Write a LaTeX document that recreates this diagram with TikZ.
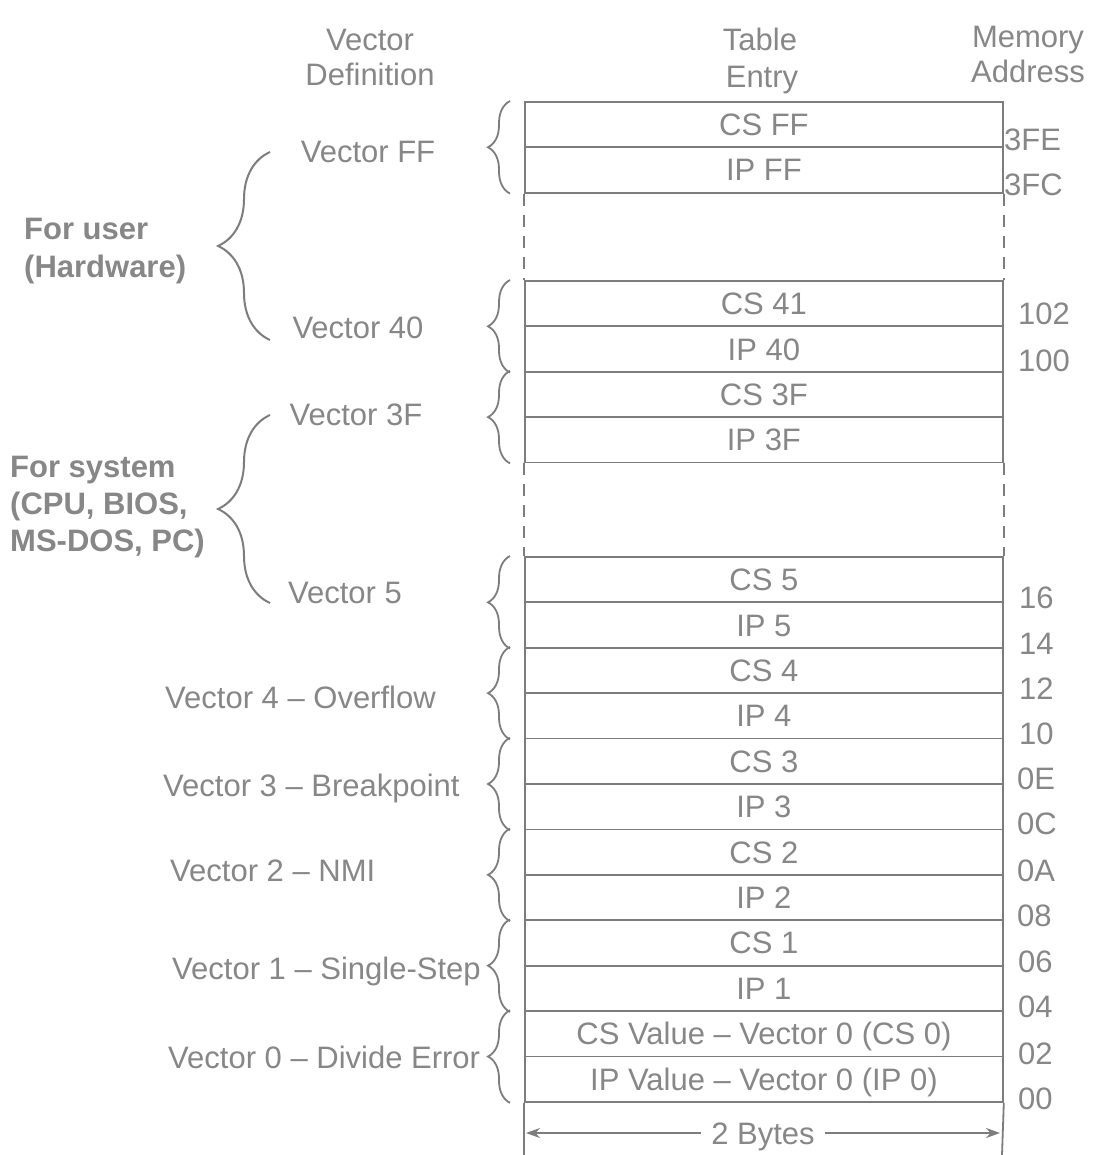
\documentclass[tikz,border=0pt]{standalone}
\usepackage{fontspec}
\setmainfont{Liberation Sans}
\usetikzlibrary{decorations.pathreplacing,arrows.meta}
\definecolor{lc}{RGB}{125,125,125}
\definecolor{tc}{RGB}{135,135,135}
\newcommand\fsz{\fontsize{31}{37}\selectfont}
\begin{document}
\begin{tikzpicture}[x=1pt,y=-1pt,
  cell/.style={draw=lc,line width=1.8pt,minimum width=478pt,minimum height=45.4pt,
    inner sep=0pt,anchor=north west,text=tc,font=\fsz,text height=22pt,text depth=0pt},
  lbl/.style={text=tc,font=\fsz,inner sep=0pt,text height=22pt,text depth=0pt},
  blbl/.style={lbl,font=\fsz\bfseries},
  addr/.style={lbl,anchor=west},
  dline/.style={draw=lc,line width=1.8pt,dash pattern=on 12pt off 9pt},
  sline/.style={draw=lc,line width=1.8pt},
  brc/.style={draw=lc,line width=1.8pt,decorate,decoration={brace,amplitude=22pt}},
  bigbrc/.style={draw=lc,line width=2pt,decorate,decoration={brace,amplitude=52pt}},
  arr/.style={draw=lc,line width=1.8pt,{Stealth[length=14pt,width=10pt]}-{Stealth[length=14pt,width=10pt]}}
]
\useasboundingbox[fill=white] (0,0) rectangle (1097,1155);

% headers
\node[lbl] (h1a) at (370,40) {Vector};
\node[lbl] (h1b) at (370,75) {Definition};
\node[lbl] (h2a) at (760,40) {Table};
\node[lbl] (h2b) at (762,77) {Entry};
\node[lbl] (h3a) at (1028,37) {Memory};
\node[lbl] (h3b) at (1028,72) {Address};

% top block
\node[cell] (csff) at (524,101) {CS FF};
\node[cell] (ipff) at (524,146.4) {IP FF};
% middle block
\node[cell] (cs41) at (524,280) {CS 41};
\node[cell] (ip40) at (524,325.4) {IP 40};
\node[cell] (cs3f) at (524,370.8) {CS 3F};
\node[cell] (ip3f) at (524,416.2) {IP 3F};
% bottom block
\foreach \t [count=\i] in {CS 5,IP 5,CS 4,IP 4,CS 3,IP 3,CS 2,IP 2,CS 1,IP 1,
    CS Value – Vector 0 (CS 0),IP Value – Vector 0 (IP 0)}
  \node[cell] (c\i) at (524,{556+(\i-1)*45.42}) {\t};

% dashed continuation lines
\draw[dline] (ipff.south west) -- (cs41.north west);
\draw[dline] (ipff.south east) -- (cs41.north east);
\draw[dline] (ip3f.south west) -- (c1.north west);
\draw[dline] (ip3f.south east) -- (c1.north east);

% bottom extensions and width arrow
\coordinate (bl) at (524,1155);
\coordinate (br) at (1002,1155);
\draw[sline] (c12.south west) -- (bl);
\draw[sline] (c12.south east) -- (br);
\coordinate (aL) at (526,1133);
\coordinate (aR) at (1000,1133);
\draw[arr] (aL) -- node[lbl,fill=white,inner xsep=10pt,inner ysep=2pt] (bytes) {2 Bytes} (aR);

% small braces next to table
\draw[brc] ([xshift=-14pt]ipff.south west) -- ([xshift=-14pt]csff.north west);
\draw[brc] ([xshift=-14pt]ip40.south west) -- ([xshift=-14pt]cs41.north west);
\draw[brc] ([xshift=-14pt]ip3f.south west) -- ([xshift=-14pt]cs3f.north west);
\draw[brc] ([xshift=-14pt]c2.south west) -- ([xshift=-14pt]c1.north west);
\draw[brc] ([xshift=-14pt]c4.south west) -- ([xshift=-14pt]c3.north west);
\draw[brc] ([xshift=-14pt]c6.south west) -- ([xshift=-14pt]c5.north west);
\draw[brc] ([xshift=-14pt]c8.south west) -- ([xshift=-14pt]c7.north west);
\draw[brc] ([xshift=-14pt]c10.south west) -- ([xshift=-14pt]c9.north west);
\draw[brc] ([xshift=-14pt]c12.south west) -- ([xshift=-14pt]c11.north west);

% vector labels
\node[lbl] (vff) at (368,152) {Vector FF};
\node[lbl] (v40) at (358,327) {Vector 40};
\node[lbl] (v3f) at (356,414) {Vector 3F};
\node[lbl] (v5) at (345,592) {Vector 5};
\node[lbl,anchor=west] (v4) at (165,697) {Vector 4 – Overflow};
\node[lbl,anchor=west] (v3) at (163,785) {Vector 3 – Breakpoint};
\node[lbl,anchor=west] (v2) at (170,870) {Vector 2 – NMI};
\node[lbl,anchor=west] (v1) at (172,968) {Vector 1 – Single-Step};
\node[lbl,anchor=west] (v0) at (168,1057) {Vector 0 – Divide Error};

% big braces
\coordinate (u1) at (270,340);
\coordinate (u2) at (270,152);
\draw[bigbrc] (u1) -- (u2);
\coordinate (s1) at (270,603);
\coordinate (s2) at (270,415);
\draw[bigbrc] (s1) -- (s2);

% group labels
\node[blbl,anchor=west] (g1a) at (24,229) {For user};
\node[blbl,anchor=west] (g1b) at (24,266) {(Hardware)};
\node[blbl,anchor=west] (g2a) at (10,466) {For system};
\node[blbl,anchor=west] (g2b) at (10,503) {(CPU, BIOS,};
\node[blbl,anchor=west] (g2c) at (10,540) {MS-DOS, PC)};

% addresses
\node[addr] (a3fe) at (1004,140) {3FE};
\node[addr] (a3fc) at (1004,185) {3FC};
\node[addr] (a102) at (1018,313) {102};
\node[addr] (a100) at (1018,360) {100};
\node[addr] (a16) at (1019,597) {16};
\node[addr] (a14) at (1019,643) {14};
\node[addr] (a12) at (1019,688) {12};
\node[addr] (a10) at (1019,733) {10};
\node[addr] (a0e) at (1017,778) {0E};
\node[addr] (a0c) at (1017,823) {0C};
\node[addr] (a0a) at (1017,870) {0A};
\node[addr] (a08) at (1017,915) {08};
\node[addr] (a06) at (1018,961) {06};
\node[addr] (a04) at (1018,1006) {04};
\node[addr] (a02) at (1018,1053) {02};
\node[addr] (a00) at (1018,1098) {00};
\end{tikzpicture}
\end{document}
